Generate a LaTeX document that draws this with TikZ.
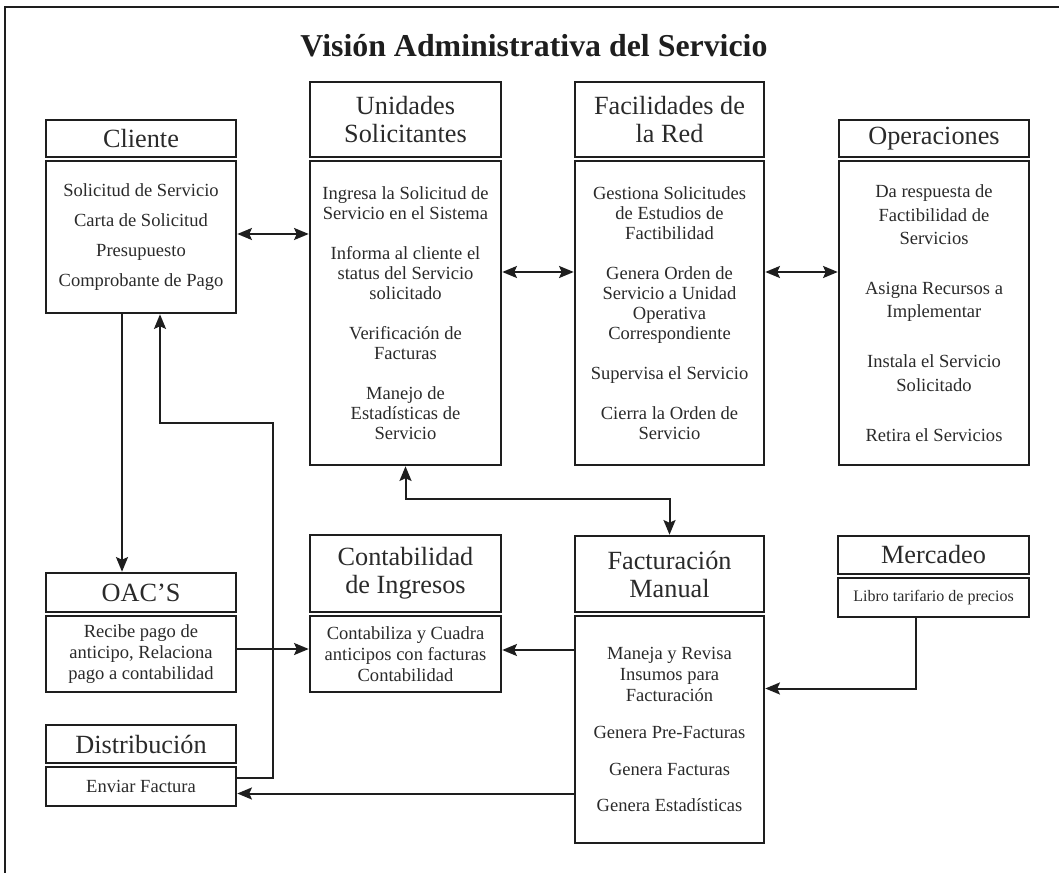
\documentclass[tikz,border=0pt]{standalone}
\usepackage{fontspec}
\setmainfont{Liberation Serif}
\usetikzlibrary{arrows.meta,calc}
\definecolor{ink}{HTML}{1E1E1E}
\definecolor{txt}{HTML}{2A2A2A}

\begin{document}
\begin{tikzpicture}[x=0.75pt,y=-0.75pt,
  % a box given by its left, top, right and bottom edges (px)
  area/.style n args={4}{minimum width={(#3-#1)*0.75pt}, minimum height={(#4-#2)*0.75pt},
    at={({(#1+#3)/2},{(#2+#4)/2})}, anchor=center},
  box/.style={draw=ink, line width=1.9pt, inner sep=0pt, text=txt, align=center},
  hdr/.style={box, font=\fontsize{19.7}{21}\selectfont},
  bdy/.style={box, font=\fontsize{13.9}{15}\selectfont},
  tip/.tip={Stealth[length=11pt,width=9pt,inset=2pt]},
  link/.style={draw=ink, line width=1.5pt, -tip},
  dlink/.style={draw=ink, line width=1.5pt, tip-tip},
]
\useasboundingbox (0,0) rectangle (1059,873);

% outer frame
\draw[ink, line width=1.5pt] (5,873) -- (5,7) -- (1059,7);

% title
\node[font=\bfseries\fontsize{23.9}{28}\selectfont, text=ink] (title) at (534,46) {Visión Administrativa del Servicio};

% Cliente
\node[hdr, area={46}{120}{236}{157}] (clih) {Cliente};
\node[bdy, area={46}{161}{236}{313}] (clib) {Solicitud de Servicio\\[7.5pt]Carta de Solicitud\\[7.5pt]Presupuesto\\[7.5pt]Comprobante de Pago};

% Unidades Solicitantes
\node[hdr, area={310}{82}{501}{157}] (unih) {Unidades\\Solicitantes};
\node[bdy, area={310}{161}{501}{465}] (unib) {Ingresa la Solicitud de\\Servicio en el Sistema\\[15pt]Informa al cliente el\\status del Servicio\\solicitado\\[15pt]Verificación de\\Facturas\\[15pt]Manejo de\\Estadísticas de\\Servicio};

% Facilidades de la Red
\node[hdr, area={575}{82}{764}{157}] (fach) {Facilidades de\\la Red};
\node[bdy, area={575}{161}{764}{465}] (facb) {Gestiona Solicitudes\\de Estudios de\\Factibilidad\\[15pt]Genera Orden de\\Servicio a Unidad\\Operativa\\Correspondiente\\[15pt]Supervisa el Servicio\\[15pt]Cierra la Orden de\\Servicio};

% Operaciones
\node[hdr, area={839}{120}{1029}{157}] (opeh) {Operaciones};
\node[bdy, font=\fontsize{13.9}{17.5}\selectfont, area={839}{161}{1029}{465}] (opeb) {Da respuesta de\\Factibilidad de\\Servicios\\[20pt]Asigna Recursos a\\Implementar\\[20pt]Instala el Servicio\\Solicitado\\[20pt]Retira el Servicios};

% OAC'S
\node[hdr, area={46}{573}{236}{612}] (oach) {OAC’S};
\node[bdy, font=\fontsize{13.9}{16}\selectfont, area={46}{616}{236}{692}] (oacb) {Recibe pago de\\anticipo, Relaciona\\pago a contabilidad};

% Distribucion
\node[hdr, area={46}{725}{236}{763}] (dish) {Distribución};
\node[bdy, area={46}{767}{236}{806}] (disb) {Enviar Factura};

% Contabilidad de Ingresos
\node[hdr, area={310}{535}{501}{612}] (conh) {Contabilidad\\de Ingresos};
\node[bdy, font=\fontsize{13.9}{16}\selectfont, area={310}{616}{501}{692}] (conb) {Contabiliza y Cuadra\\anticipos con facturas\\Contabilidad};

% Facturacion Manual
\node[hdr, area={575}{536}{764}{612}] (fmh) {Facturación\\Manual};
\node[bdy, font=\fontsize{13.9}{16}\selectfont, area={575}{616}{764}{843}] (fmb) {Maneja y Revisa\\Insumos para\\Facturación\\[11.5pt]Genera Pre-Facturas\\[11.5pt]Genera Facturas\\[11.5pt]Genera Estadísticas};

% Mercadeo
\node[hdr, area={838}{536}{1029}{574}] (merh) {Mercadeo};
\node[bdy, font=\fontsize{12}{14}\selectfont, area={838}{578}{1029}{617}] (merb) {Libro tarifario de precios};

% connectors
\coordinate (k1) at ($(clib.east)+(0,-3)$);
\draw[dlink] (k1) -- (k1 -| unib.west);
\coordinate (k2) at ($(unib.east)+(0,-41)$);
\draw[dlink] (k2) -- (k2 -| facb.west);
\draw[dlink] (k2 -| facb.east) -- (k2 -| opeb.west);

\draw[link] ($(clib.south)+(-19,0)$) -- ($(oach.north)+(-19,0)$);

\coordinate (k3) at ($(disb.east)+(0,-9)$);
\coordinate (turn) at (273,423);
\draw[link] (k3) -| (turn) -| ($(clib.south)+(19,0)$);

\coordinate (k4) at ($(oacb.east)+(0,-5)$);
\draw[link] (k4) -- (k4 -| conb.west);

\coordinate (k5) at ($(conb.east)+(0,-4)$);
\draw[link] (k5 -| fmb.west) -- (k5);

\draw[link] ($(merb.south)+(-18,0)$) |- ($(fmb.east)+(0,-41)$);

\coordinate (k6) at ($(disb.east)+(0,7)$);
\draw[link] (k6 -| fmb.west) -- (k6);

\draw[dlink] (unib.south) -- ++(0,33) -| (fmh.north);
\end{tikzpicture}
\end{document}
